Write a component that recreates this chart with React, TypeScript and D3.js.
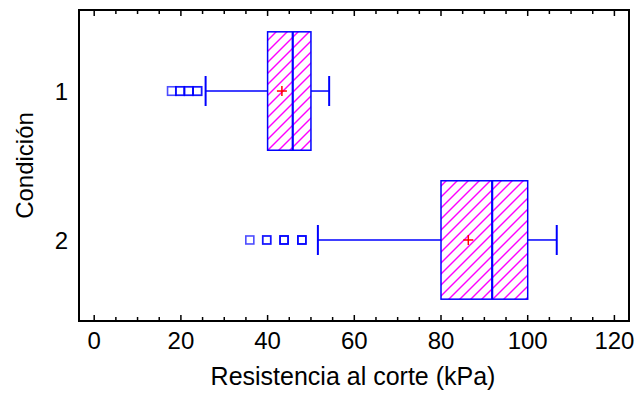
import React from "react";
import * as d3 from "d3";

const categories = ["1", "2"];
const q1 = [40, 80];
const medians = [45.8, 91.8];
const q3 = [50, 100];
const whiskerLow = [25.7, 51.6];
const whiskerHigh = [54.2, 106.7];
const means = [43.3, 86.3];
const outliers1 = [17.9, 19.8, 19.8, 21.8, 21.8, 23.8, 23.8];
const outliers2 = [35.9, 39.8, 39.8, 43.8, 43.8, 43.8, 47.9, 47.9, 47.9];
const outliers = [outliers1, outliers2];
const xTicks = [0, 20, 40, 60, 80, 100, 120];

const W = 639;
const H = 396;
const left = 79;
const right = 629;
const top = 10;
const bottom = 321;

export default function App() {
  const x = d3.scaleLinear().domain([0, 120]).range([94.2, 614.4]);
  const y = d3.scalePoint<string>().domain(categories).range([top, bottom]).padding(0.544);
  const step = y.step();
  const boxH = step * 0.795;
  const minor = d3.range(0, 126, 5).filter((v) => x(v) > left && x(v) < right);
  const font = "Arial, 'Liberation Sans', sans-serif";
  const blue = "#0000ff";
  const fs = 24;

  return (
    <svg width={W} height={H} style={{ position: "absolute", left: 0, top: 0, background: "#fff" }}>
      <defs>
        <pattern id="hatch" patternUnits="userSpaceOnUse" width="11" height="11">
          <line x1="-1" y1="12" x2="12" y2="-1" stroke="#ff00ff" strokeWidth="1.4" />
          <line x1="-6" y1="6" x2="6" y2="-6" stroke="#ff00ff" strokeWidth="1.4" />
          <line x1="5" y1="17" x2="17" y2="5" stroke="#ff00ff" strokeWidth="1.4" />
        </pattern>
      </defs>
      <rect x={0} y={0} width={W} height={H} fill="#fff" />
      {categories.map((c, i) => {
        const cy = y(c)!;
        const y0 = cy - boxH / 2;
        const capH = 30;
        const sq = i === 0 ? 8.5 : 8;
        return (
          <g key={c}>
            <line x1={x(whiskerLow[i])} x2={x(q1[i])} y1={cy} y2={cy} stroke={blue} strokeWidth={1.5} />
            <line x1={x(q3[i])} x2={x(whiskerHigh[i])} y1={cy} y2={cy} stroke={blue} strokeWidth={1.5} />
            <line x1={x(whiskerLow[i])} x2={x(whiskerLow[i])} y1={cy - capH / 2} y2={cy + capH / 2} stroke={blue} strokeWidth={2} />
            <line x1={x(whiskerHigh[i])} x2={x(whiskerHigh[i])} y1={cy - capH / 2} y2={cy + capH / 2} stroke={blue} strokeWidth={2} />
            <rect x={x(q1[i])} y={y0} width={x(q3[i]) - x(q1[i])} height={boxH} fill="url(#hatch)" stroke={blue} strokeWidth={1.5} />
            <line x1={x(medians[i])} x2={x(medians[i])} y1={y0} y2={y0 + boxH} stroke={blue} strokeWidth={2.2} />
            <line x1={x(means[i]) - 5} x2={x(means[i]) + 5} y1={cy} y2={cy} stroke="#ff0000" strokeWidth={1.5} />
            <line x1={x(means[i])} x2={x(means[i])} y1={cy - 5} y2={cy + 5} stroke="#ff0000" strokeWidth={1.5} />
            {outliers[i].map((v, j) => (
              <rect key={j} x={x(v) - sq / 2} y={cy - sq / 2} width={sq} height={sq} fill="none" stroke={blue} strokeWidth={1.6} strokeOpacity={0.7} />
            ))}
          </g>
        );
      })}
      <rect x={left} y={top} width={right - left} height={bottom - top} fill="none" stroke="#000" strokeWidth={2} />
      {minor.map((v) => {
        const major = v % 20 === 0;
        const len = major ? 6 : 4;
        return (
          <g key={v}>
            <line x1={x(v)} x2={x(v)} y1={bottom} y2={bottom - len} stroke="#000" strokeWidth={1.5} />
            <line x1={x(v)} x2={x(v)} y1={top} y2={top + len} stroke="#000" strokeWidth={1.5} />
          </g>
        );
      })}
      {xTicks.map((v) => (
        <text key={v} x={x(v)} y={349} textAnchor="middle" fontFamily={font} fontSize={fs} fill="#000">
          {v}
        </text>
      ))}
      {categories.map((c) => (
        <text key={c} x={68} y={y(c)! + 9} textAnchor="end" fontFamily={font} fontSize={fs} fill="#000">
          {c}
        </text>
      ))}
      <text x={353} y={385} textAnchor="middle" fontFamily={font} fontSize={25} fill="#000">
        Resistencia al corte (kPa)
      </text>
      <text transform={`translate(33, ${(top + bottom) / 2}) rotate(-90)`} textAnchor="middle" fontFamily={font} fontSize={fs} fill="#000">
        Condición
      </text>
    </svg>
  );
}
